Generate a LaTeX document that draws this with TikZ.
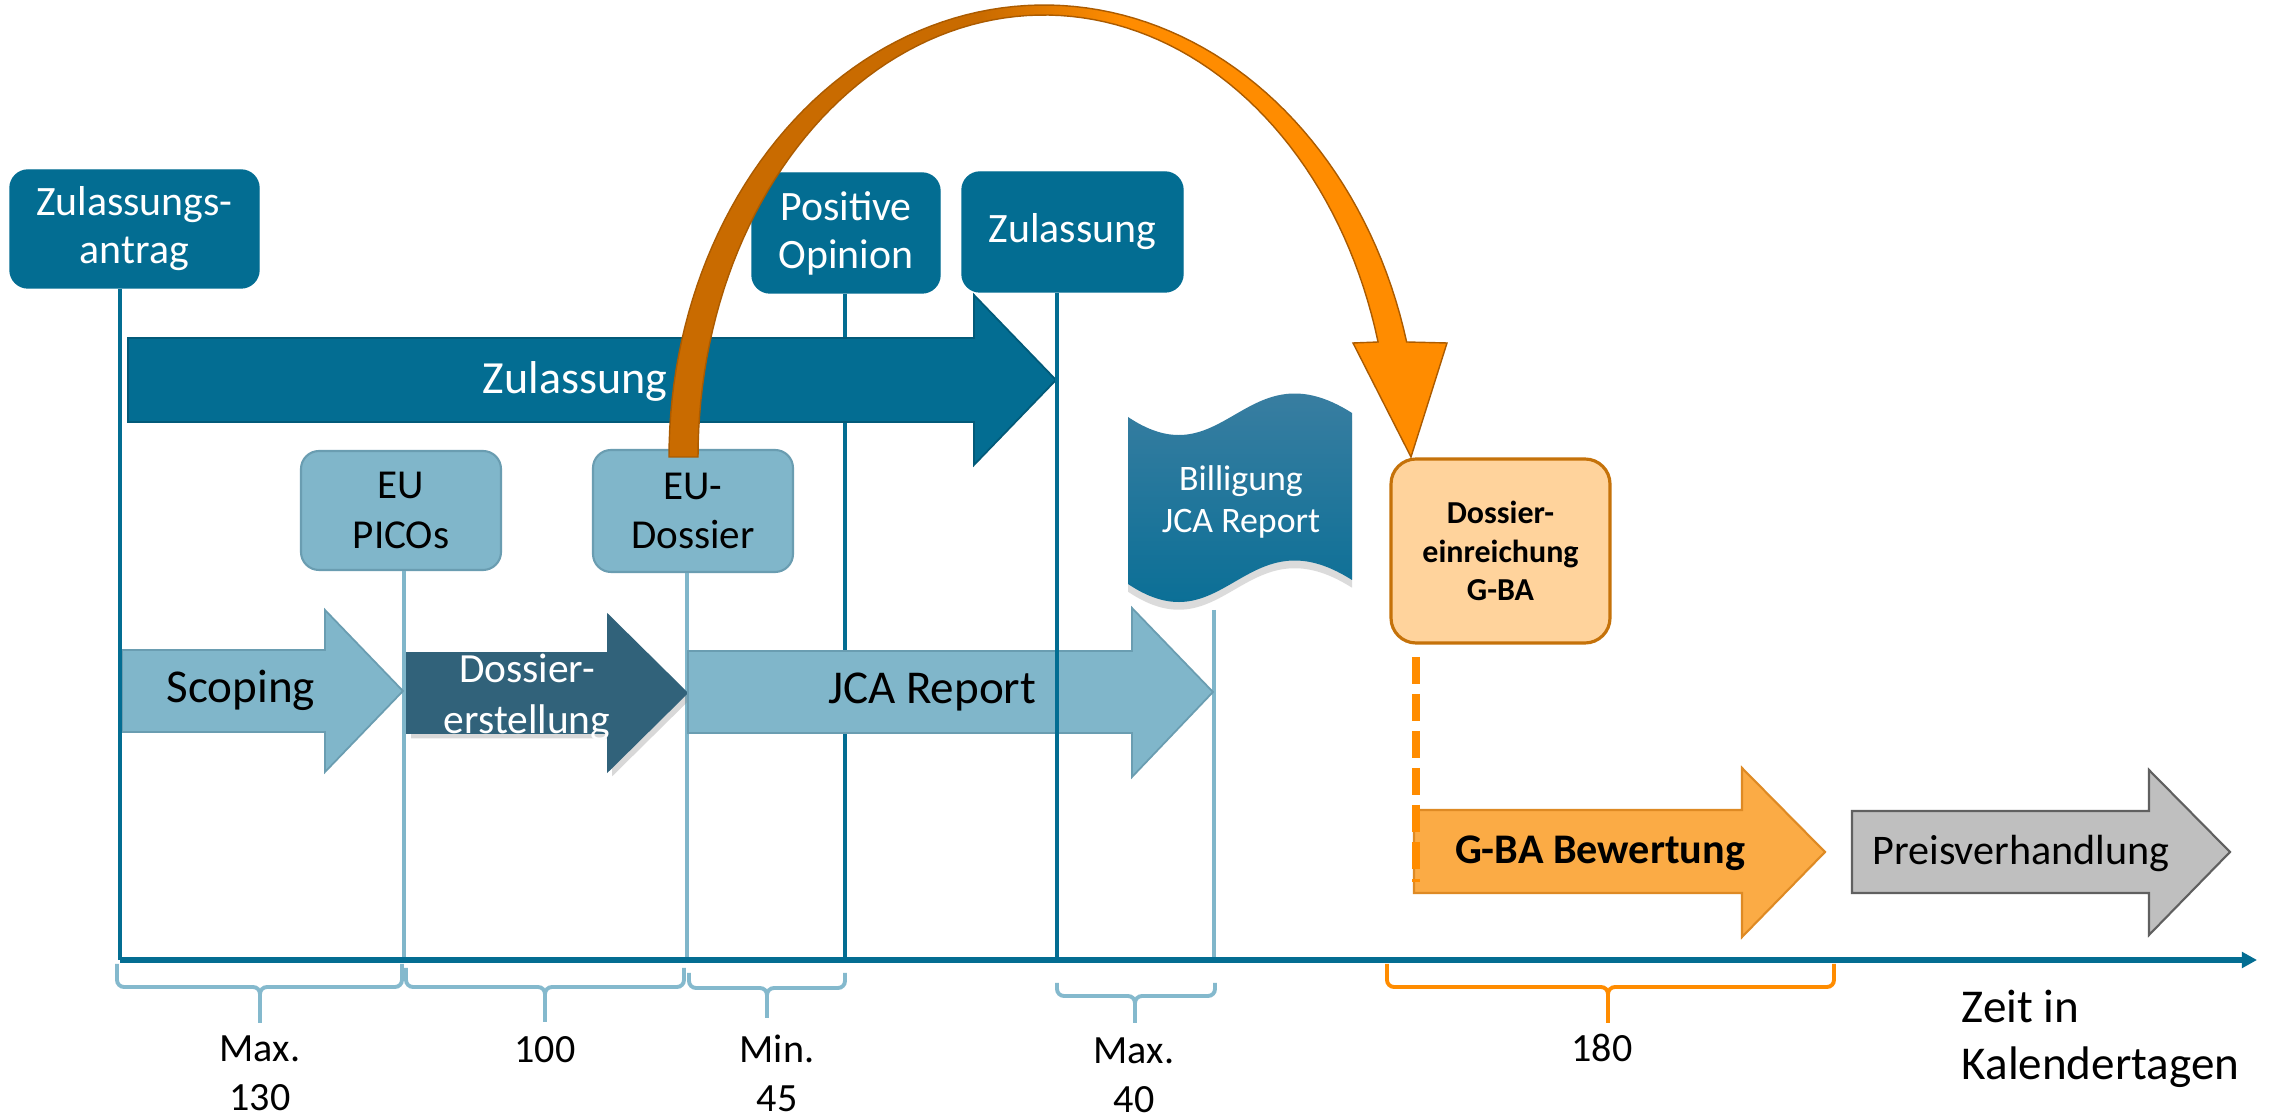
\documentclass[tikz,border=0pt]{standalone}
\usepackage{fontspec}
\setmainfont{Carlito}
\usetikzlibrary{arrows.meta,shadows}

\definecolor{tealdark}{HTML}{036D92}
\definecolor{tealedgedark}{HTML}{025A79}
\definecolor{teallight}{HTML}{80B6CA}
\definecolor{tealedge}{HTML}{6A9DB1}
\definecolor{tealdeep}{HTML}{31627A}
\definecolor{arcdark}{HTML}{C96B00}
\definecolor{arcbright}{HTML}{FF8C00}
\definecolor{gbafill}{HTML}{FBAB45}
\definecolor{gbaedge}{HTML}{DE8A24}
\definecolor{peach}{HTML}{FFD39C}
\definecolor{peachedge}{HTML}{C5720A}
\definecolor{greyfill}{HTML}{BFBFBF}
\definecolor{greyedge}{HTML}{606060}
\definecolor{bracelight}{HTML}{84B9CD}
\definecolor{tapetop}{HTML}{4381A3}
\definecolor{tapebottom}{HTML}{016C94}

% shading for the curved arrow: dark on the rising leg, bright on the falling leg
\pgfdeclarehorizontalshading{arcshade}{100bp}{color(0bp)=(arcdark); color(45bp)=(arcdark); color(54bp)=(arcbright); color(100bp)=(arcbright)}

\newcommand\fsz[2]{\fontsize{#1}{#2}\selectfont}

\tikzset{
  milestone/.style={fill=tealdark, draw=tealdark, rounded corners=1.8mm,
    text=white, align=center, inner sep=0pt, font=\fsz{11.9}{13.7}},
  subgoal/.style={fill=teallight, draw=tealedge, line width=0.6pt, rounded corners=1.8mm,
    text=black, align=center, inner sep=0pt, font=\fsz{11.7}{14.2}},
  darkline/.style={draw=tealdark, line width=1.15pt},
  lightline/.style={draw=teallight, line width=1pt},
  phaselight/.style={fill=teallight, draw=tealedge, line width=0.5pt},
  phasedeep/.style={fill=tealdeep, draw=tealdeep, line width=0.5pt,
    drop shadow={shadow xshift=1.2pt, shadow yshift=-1.5pt, opacity=0.3}},
  phasemain/.style={fill=tealdark, draw=tealedgedark, line width=0.5pt},
  phasegba/.style={fill=gbafill, draw=gbaedge, line width=0.6pt},
  phasegrey/.style={fill=greyfill, draw=greyedge, line width=0.6pt},
  lbl/.style={inner sep=0pt, align=center},
  spanbrace/.style={line width=1.1pt, rounded corners=0.7mm},
}

\begin{document}
\begin{tikzpicture}[x=0.1mm, y=-0.1mm]
\useasboundingbox (0,0) rectangle (2269,1120);
\fill[white] (0,0) rectangle (2269,1120);

% points on the time axis
\coordinate (a0) at (120,960);
\coordinate (a1) at (404,960);
\coordinate (a2) at (687,960);
\coordinate (a3) at (845,960);
\coordinate (a4) at (1057,960);
\coordinate (a5) at (1214,960);
\coordinate (aend) at (2257,960);

% milestone boxes
\node[milestone, minimum width=24.9mm, minimum height=11.8mm] (antrag) at (134.5,229) {Zulassungs-\\antrag};
\node[milestone, minimum width=18.8mm, minimum height=12mm] (posop) at (846,233) {Positive\\Opinion};
\node[milestone, minimum width=22.1mm, minimum height=12mm] (zulbox) at (1072.5,232) {Zulassung};
\node[subgoal, minimum width=20mm, minimum height=11.9mm] (picos) at (401,510.5) {EU\\PICOs};
\node[subgoal, minimum width=20mm, minimum height=12.2mm] (eudossier) at (693,511) {EU-\\Dossier};

% lines under the milestones (behind the phase arrows)
\draw[darkline] (posop.south -| a3) -- (a3);
\draw[lightline] (picos.south -| a1) -- (a1);
\draw[lightline] (eudossier.south -| a2) -- (a2);
\coordinate (billtop) at (1214,610);
\draw[lightline] (billtop) -- (a5);

% approval arrow
\draw[phasemain] (128,338) -- (974,338) -- (974,295) -- (1056,380) -- (974,465) -- (974,422) -- (128,422) -- cycle;
\node[lbl, text=white, font=\fsz{13.1}{15}] (zultext) at (575,381) {Zulassung};

% assessment phases
\draw[phaselight] (122,650) -- (325,650) -- (325,610) -- (403,691) -- (325,772) -- (325,732) -- (122,732) -- cycle;
\node[lbl, font=\fsz{13.4}{16}] (scoping) at (241,690) {Scoping};

\draw[phasedeep] (407,653) -- (608,653) -- (608,615) -- (687,693) -- (608,771) -- (608,733) -- (407,733) -- cycle;
\node[lbl, text=white, font=\fsz{11.8}{14.5}] (erstellung) at (527,697) {Dossier-\\erstellung};

\draw[phaselight] (688,651) -- (1132,651) -- (1132,608) -- (1213,692) -- (1132,777) -- (1132,733) -- (688,733) -- cycle;
\node[lbl, font=\fsz{13.4}{16}] (jca) at (932,692) {JCA Report};

% lines in front of the phase arrows
\draw[darkline] (antrag.south -| a0) -- (a0);
\draw[darkline] (zulbox.south -| a4) -- (a4);

% approval of the JCA report (wave banner)
\shade[top color=tapetop, bottom color=tapebottom,
  drop shadow={shadow xshift=0pt, shadow yshift=-2.2pt, opacity=0.28}]
  (1128,417) .. controls (1225,482) and (1245,345) .. (1352,413)
  -- (1352,580) .. controls (1245,512) and (1225,649) .. (1128,584) -- cycle;
\node[lbl, text=white, font=\fsz{10.2}{12.2}] (billigung) at (1241,502) {Billigung\\JCA Report};

% national dossier submission
\node[fill=peach, draw=peachedge, line width=0.9pt, rounded corners=2.5mm,
  minimum width=21.9mm, minimum height=18.4mm, align=center, inner sep=0pt,
  font=\bfseries\fsz{9.1}{11}] (gbabox) at (1500.5,551) {Dossier-\\einreichung\\G-BA};

% national phases
\draw[phasegba] (1414,810) -- (1742,810) -- (1742,768) -- (1825,852) -- (1742,937) -- (1742,893) -- (1414,893) -- cycle;
\node[lbl, font=\bfseries\fsz{12}{14}] (bewertung) at (1600,853) {G-BA Bewertung};

\draw[phasegrey] (1852,811) -- (2149,811) -- (2149,770) -- (2230,852) -- (2149,935) -- (2149,893) -- (1852,893) -- cycle;
\node[lbl, font=\fsz{12}{14}] (preis) at (2021,853) {Preisverhandlung};

\coordinate (dashtop) at (1416,657);
\coordinate (dashbot) at (1416,882);
\draw[arcbright, line width=2pt, dash pattern=on 2.7mm off 1mm] (dashtop) -- (dashbot);

% curved arrow from the EU dossier to the national submission
\path[shading=arcshade, draw=arcdark!85!black, line width=0.4pt]
  (669,457)
  -- plot[domain=180:345.26, samples=90, variable=\t] ({1044+375*cos(\t)}, {457+452*sin(\t)})
  -- (1447,343) -- (1411,457) -- (1353,343)
  -- plot[domain=344.92:180, samples=90, variable=\t] ({1044+346*cos(\t)}, {457+442*sin(\t)})
  -- cycle;

% time axis
\draw[tealdark, line width=1.45pt, -{Triangle[length=4.3pt, width=4.4pt]}] (a0) -- (aend);

% duration braces
\draw[bracelight, spanbrace] (117,964) -- (117,987) -- (260,987) -- (260,1023);
\draw[bracelight, spanbrace] (402,964) -- (402,987) -- (260,987) -- (260,1023);
\draw[bracelight, spanbrace] (406,968) -- (406,987) -- (545,987) -- (545,1022);
\draw[bracelight, spanbrace] (684,968) -- (684,987) -- (545,987) -- (545,1022);
\draw[bracelight, spanbrace] (689,973) -- (689,988) -- (767,988) -- (767,1018);
\draw[bracelight, spanbrace] (845,973) -- (845,988) -- (767,988) -- (767,1018);
\draw[bracelight, spanbrace] (1057,983) -- (1057,996) -- (1135,996) -- (1135,1023);
\draw[bracelight, spanbrace] (1215,983) -- (1215,996) -- (1135,996) -- (1135,1023);
\draw[arcbright, spanbrace] (1387,964) -- (1387,987) -- (1608,987) -- (1608,1023);
\draw[arcbright, spanbrace] (1834,964) -- (1834,987) -- (1608,987) -- (1608,1023);

% durations
\node[lbl, font=\fsz{11.4}{14}] (d1) at (260,1073) {Max.\\130};
\node[lbl, font=\fsz{11.4}{14}] (d2) at (545,1050) {100};
\node[lbl, font=\fsz{11.4}{14}] (d3) at (777,1073) {Min.\\45};
\node[lbl, font=\fsz{11.4}{14}] (d4) at (1134,1075) {Max.\\40};
\node[lbl, font=\fsz{11.4}{14}] (d5) at (1602,1048) {180};
\node[lbl, align=left, anchor=west, font=\fsz{13.4}{16.2}] (unit) at (1961,1039) {Zeit in\\Kalendertagen};
\end{tikzpicture}
\end{document}
